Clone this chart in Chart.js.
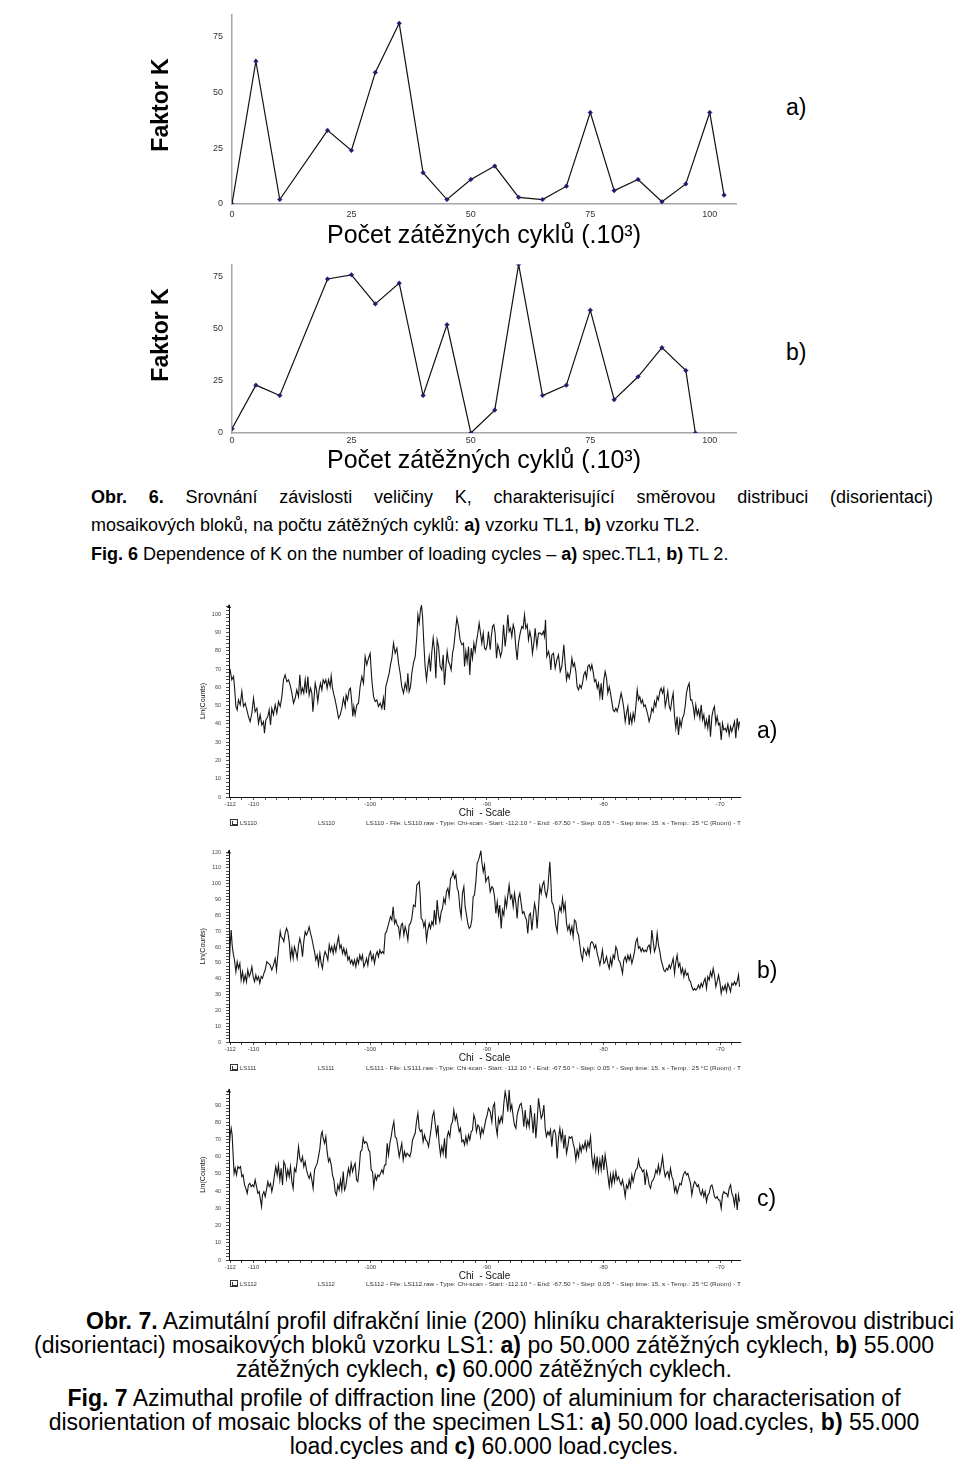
<!DOCTYPE html>
<html>
<head>
<meta charset="utf-8">
<script src="https://cdn.jsdelivr.net/npm/chart.js@4.4.1/dist/chart.umd.min.js"></script>
<style>
  html, body { margin:0; padding:0; background:#fff; }
  body { width:960px; height:1469px; position:relative; overflow:hidden;
         font-family:"Liberation Sans", Arial, Helvetica, sans-serif; color:#000; }
  canvas { position:absolute; }
  .t { position:absolute; white-space:nowrap; }
  .cap1 { font-size:18px; line-height:28px; }
  .cap2 { font-size:23px; line-height:24px; }
  .lbl { font-size:23px; line-height:26px; }
  .ytitle { position:absolute; width:200px; height:28px; line-height:28px; text-align:center;
            font-size:23px; font-weight:bold; transform:rotate(-90deg); white-space:nowrap; }
  .leg { position:absolute; white-space:nowrap; font-size:6px; line-height:8px; color:#333; }
  .ico { position:absolute; width:8px; height:7px; border:1px solid #333; box-sizing:border-box; }
  .ico:after { content:""; position:absolute; left:1px; top:1px; width:4px; height:3px; border-bottom:1px solid #333; border-left:1px solid #333; }
  .ctr { position:absolute; left:0; width:968px; text-align:center; white-space:nowrap; }
  .just { position:absolute; width:842px; text-align:justify; text-align-last:justify; white-space:normal; }
</style>
</head>
<body>

<canvas id="kA" width="620" height="251" style="left:140px; top:0px;"></canvas>
<canvas id="kB" width="620" height="226" style="left:140px; top:250px;"></canvas>

<div class="ytitle" style="left:60px; top:91px;">Faktor K</div>
<div class="ytitle" style="left:60px; top:321px;">Faktor K</div>

<div class="t lbl" style="left:786px; top:94px;">a)</div>
<div class="t lbl" style="left:786px; top:339px;">b)</div>

<div class="just cap1" style="left:91px; top:483px;"><b>Obr. 6.</b> Srovnání závislosti veličiny K, charakterisující směrovou distribuci (disorientaci)</div>
<div class="t cap1" style="left:91px; top:511px;">mosaikových bloků, na počtu zátěžných cyklů: <b>a)</b> vzorku TL1, <b>b)</b> vzorku TL2.</div>
<div class="t cap1" style="left:91px; top:540px;"><b>Fig. 6</b> Dependence of K on the number of loading cycles – <b>a)</b> spec.TL1, <b>b)</b> TL 2.</div>

<canvas id="xA" width="570" height="240" style="left:190px; top:595px;"></canvas>
<canvas id="xB" width="570" height="240" style="left:190px; top:840px;"></canvas>
<canvas id="xC" width="570" height="218" style="left:190px; top:1080px;"></canvas>

<div class="t lbl" style="left:757px; top:717px;">a)</div>
<div class="t lbl" style="left:757px; top:957px;">b)</div>
<div class="t lbl" style="left:757px; top:1185px;">c)</div>

<div class="ico" style="left:230px; top:819px;"></div>
<div class="leg" style="left:240px; top:819px;">LS110</div>
<div class="leg" style="left:318px; top:819px;">LS110</div>
<div class="leg fit" data-w="375" style="left:366px; top:819px;">LS110 - File: LS110.raw - Type: Chi-scan - Start: -112.10 ° - End: -67.50 ° - Step: 0.05 ° - Step time: 15. s - Temp.: 25 °C (Room) - T</div>

<div class="ico" style="left:230px; top:1064px;"></div>
<div class="leg" style="left:240px; top:1064px;">LS111</div>
<div class="leg" style="left:318px; top:1064px;">LS111</div>
<div class="leg fit" data-w="375" style="left:366px; top:1064px;">LS111 - File: LS111.raw - Type: Chi-scan - Start: -112.10 ° - End: -67.50 ° - Step: 0.05 ° - Step time: 15. s - Temp.: 25 °C (Room) - T</div>

<div class="ico" style="left:230px; top:1280px;"></div>
<div class="leg" style="left:240px; top:1280px;">LS112</div>
<div class="leg" style="left:318px; top:1280px;">LS112</div>
<div class="leg fit" data-w="375" style="left:366px; top:1280px;">LS112 - File: LS112.raw - Type: Chi-scan - Start: -112.10 ° - End: -67.50 ° - Step: 0.05 ° - Step time: 15. s - Temp.: 25 °C (Room) - T</div>

<div class="t cap2" style="left:86px; top:1309px;"><b>Obr. 7.</b> Azimutální profil difrakční linie (200) hliníku charakterisuje směrovou distribuci</div>
<div class="ctr cap2" style="top:1333px;">(disorientaci) mosaikových bloků vzorku LS1: <b>a)</b> po 50.000 zátěžných cyklech, <b>b)</b> 55.000</div>
<div class="ctr cap2" style="top:1357px;">zátěžných cyklech, <b>c)</b> 60.000 zátěžných cyklech.</div>
<div class="ctr cap2" style="top:1386px;"><b>Fig. 7</b> Azimuthal profile of diffraction line (200) of aluminium for characterisation of</div>
<div class="ctr cap2" style="top:1410px;">disorientation of mosaic blocks of the specimen LS1: <b>a)</b> 50.000 load.cycles, <b>b)</b> 55.000</div>
<div class="ctr cap2" style="top:1434px;">load.cycles and <b>c)</b> 60.000 load.cycles.</div>

<script>
// ---------------- data: Faktor K vs. number of loading cycles ----------------
const kCyclesA = [0, 5, 10, 20, 25, 30, 35, 40, 45, 50, 55, 60, 65, 70, 75, 80, 85, 90, 95, 100, 103];
const kFactorA = [0, 64, 2, 33, 24, 59, 81, 14, 2, 11, 17, 3, 2, 8, 41, 6, 11, 1, 9, 41, 4];
const kCyclesB = [0, 5, 10, 20, 25, 30, 35, 40, 45, 50, 55, 60, 65, 70, 75, 80, 85, 90, 95, 97];
const kFactorB = [2, 23, 18, 74, 76, 62, 72, 18, 52, 0, 11, 81, 18, 23, 59, 16, 27, 41, 30, 0];
const kTicksX = [0, 25, 50, 75, 100];
const kTicksY = [0, 25, 50, 75];

// ---------------- data: azimuthal profiles [Chi, Lin(Counts)] ----------------
const ls110 = [
[-112.09,68.6],[-112.00,69.5],[-111.86,64.1],[-111.71,65.9],[-111.63,60.4],[-111.51,49.5],[-111.40,47.6],[-111.29,53.1],[-111.14,50.4],[-111.00,57.7],
[-110.86,49.5],[-110.71,51.3],[-110.57,47.6],[-110.43,44.0],[-110.29,41.2],[-110.14,45.8],[-110.00,54.0],[-109.86,46.7],[-109.71,48.5],[-109.57,40.3],
[-109.43,44.9],[-109.29,39.4],[-109.14,41.2],[-109.06,34.9],[-108.94,42.2],[-108.77,44.0],[-108.66,47.6],[-108.54,39.4],[-108.43,48.5],[-108.29,44.9],
[-108.14,50.4],[-108.00,45.8],[-107.86,52.2],[-107.71,49.5],[-107.57,54.9],[-107.43,64.1],[-107.29,66.8],[-107.14,63.1],[-107.00,64.1],[-106.86,61.3],
[-106.71,56.8],[-106.57,51.3],[-106.43,54.0],[-106.29,58.6],[-106.14,54.9],[-106.03,66.8],[-105.91,56.8],[-105.80,59.5],[-105.69,56.8],[-105.57,64.1],
[-105.46,56.8],[-105.34,65.9],[-105.23,55.8],[-105.11,59.5],[-105.00,56.8],[-104.91,46.7],[-104.80,54.9],[-104.71,62.2],[-104.60,58.6],[-104.49,52.2],
[-104.37,58.6],[-104.26,62.2],[-104.14,58.6],[-104.03,64.1],[-103.91,62.2],[-103.80,64.1],[-103.69,59.5],[-103.57,64.1],[-103.43,60.4],[-103.34,66.2],
[-103.23,59.5],[-103.11,55.8],[-103.00,53.1],[-102.86,48.5],[-102.71,43.1],[-102.57,44.9],[-102.43,48.5],[-102.29,54.0],[-102.14,49.5],[-102.06,55.8],
[-101.94,53.1],[-101.80,58.6],[-101.69,59.5],[-101.57,51.3],[-101.49,44.0],[-101.40,49.5],[-101.29,44.9],[-101.14,50.4],[-101.00,51.3],[-100.86,60.4],
[-100.71,65.9],[-100.57,62.2],[-100.43,76.8],[-100.29,72.3],[-100.14,75.9],[-100.00,78.6],[-99.86,64.1],[-99.71,54.9],[-99.57,52.2],[-99.43,53.1],
[-99.29,49.5],[-99.14,51.3],[-99.00,48.5],[-98.86,54.0],[-98.77,47.6],[-98.66,60.4],[-98.51,64.1],[-98.37,67.7],[-98.26,72.3],[-98.14,75.9],
[-98.00,84.1],[-97.86,78.6],[-97.71,81.4],[-97.57,73.2],[-97.43,67.7],[-97.29,60.4],[-97.14,56.8],[-97.00,62.2],[-96.86,58.6],[-96.77,67.7],
[-96.66,57.7],[-96.54,60.4],[-96.43,67.7],[-96.29,73.2],[-96.14,76.8],[-96.00,87.8],[-95.91,99.6],[-95.80,95.1],[-95.69,102.4],[-95.60,104.8],
[-95.51,98.7],[-95.40,84.1],[-95.29,71.4],[-95.17,64.1],[-95.06,71.4],[-94.94,76.8],[-94.83,68.6],[-94.71,79.6],[-94.60,86.9],[-94.49,80.5],
[-94.37,65.0],[-94.26,85.9],[-94.14,82.3],[-94.00,71.4],[-93.86,69.5],[-93.74,77.7],[-93.63,61.3],[-93.51,71.4],[-93.40,79.6],[-93.29,74.1],
[-93.17,72.3],[-93.06,69.5],[-92.94,78.6],[-92.83,82.3],[-92.71,89.6],[-92.57,97.8],[-92.43,93.2],[-92.29,85.9],[-92.14,83.2],[-92.00,84.1],
[-91.91,71.4],[-91.80,79.6],[-91.69,74.1],[-91.57,82.3],[-91.46,66.8],[-91.34,81.4],[-91.23,75.9],[-91.11,84.1],[-91.00,79.6],[-90.89,85.0],
[-90.77,89.6],[-90.66,95.1],[-90.54,89.6],[-90.43,84.1],[-90.31,89.6],[-90.20,81.4],[-90.09,80.5],[-89.97,83.2],[-89.86,90.5],[-89.71,80.5],
[-89.63,86.9],[-89.51,93.2],[-89.40,94.2],[-89.29,89.6],[-89.17,75.9],[-89.06,83.2],[-88.94,80.5],[-88.83,76.8],[-88.71,79.6],[-88.57,94.2],
[-88.43,82.3],[-88.31,89.6],[-88.20,99.6],[-88.09,90.5],[-87.97,92.3],[-87.86,87.8],[-87.74,94.2],[-87.63,91.4],[-87.51,81.4],[-87.40,75.0],
[-87.29,84.1],[-87.14,89.6],[-87.00,93.2],[-86.89,92.3],[-86.77,99.6],[-86.66,92.3],[-86.54,94.2],[-86.43,85.9],[-86.31,90.5],[-86.20,86.9],
[-86.09,78.6],[-85.97,84.1],[-85.86,92.3],[-85.71,82.3],[-85.57,89.6],[-85.43,89.6],[-85.29,88.7],[-85.14,90.5],[-85.06,87.8],[-84.97,96.9],
[-84.86,76.8],[-84.71,79.6],[-84.60,75.9],[-84.51,69.5],[-84.43,77.7],[-84.29,78.6],[-84.14,70.4],[-84.00,75.0],[-83.86,77.7],[-83.71,68.6],
[-83.57,71.4],[-83.40,83.2],[-83.29,73.2],[-83.17,64.1],[-83.06,67.7],[-82.94,65.0],[-82.83,68.6],[-82.71,75.9],[-82.60,71.4],[-82.49,73.2],
[-82.37,68.6],[-82.26,60.4],[-82.14,58.6],[-82.03,61.3],[-81.91,59.5],[-81.80,62.2],[-81.69,66.8],[-81.57,68.6],[-81.46,65.0],[-81.34,71.4],
[-81.23,72.3],[-81.11,69.5],[-81.00,72.3],[-80.89,68.6],[-80.77,63.1],[-80.66,64.1],[-80.54,59.5],[-80.43,62.2],[-80.31,54.9],[-80.20,62.2],
[-80.09,53.1],[-79.97,64.1],[-79.86,68.6],[-79.74,65.0],[-79.63,56.8],[-79.51,60.4],[-79.40,56.8],[-79.29,52.2],[-79.17,47.6],[-79.06,46.7],
[-78.94,48.5],[-78.83,46.7],[-78.71,49.5],[-78.60,53.1],[-78.49,56.8],[-78.37,53.1],[-78.26,48.5],[-78.14,41.2],[-78.03,45.8],[-77.91,49.5],
[-77.80,39.4],[-77.69,44.9],[-77.57,40.3],[-77.46,45.8],[-77.34,42.2],[-77.23,49.5],[-77.11,58.6],[-77.00,53.1],[-76.89,54.9],[-76.77,51.3],
[-76.66,53.1],[-76.54,49.5],[-76.43,50.4],[-76.31,47.6],[-76.20,44.9],[-76.09,41.2],[-75.97,44.0],[-75.86,48.5],[-75.74,46.7],[-75.63,52.2],
[-75.51,49.5],[-75.40,54.9],[-75.29,53.1],[-75.17,57.7],[-75.06,59.5],[-74.94,56.8],[-74.83,59.5],[-74.71,49.5],[-74.60,53.1],[-74.49,57.7],
[-74.37,49.5],[-74.26,47.6],[-74.14,53.1],[-74.03,56.8],[-73.91,44.0],[-73.80,37.6],[-73.69,44.0],[-73.57,33.9],[-73.46,42.2],[-73.34,38.5],
[-73.23,43.1],[-73.11,44.9],[-73.00,49.5],[-72.89,56.8],[-72.77,60.4],[-72.66,62.2],[-72.54,53.1],[-72.43,53.1],[-72.31,49.5],[-72.20,44.0],
[-72.09,50.4],[-71.97,44.9],[-71.86,47.6],[-71.74,43.1],[-71.63,50.4],[-71.51,42.2],[-71.40,44.9],[-71.29,38.5],[-71.17,42.2],[-71.06,37.6],
[-70.94,44.9],[-70.83,33.0],[-70.71,44.0],[-70.60,47.6],[-70.49,49.5],[-70.37,40.3],[-70.26,44.0],[-70.14,39.4],[-70.03,40.3],[-69.91,31.2],
[-69.80,40.3],[-69.69,36.7],[-69.57,37.6],[-69.46,35.8],[-69.34,39.4],[-69.23,33.9],[-69.11,38.5],[-69.00,35.8],[-68.89,38.5],[-68.77,41.2],
[-68.66,32.1],[-68.54,43.1],[-68.43,37.6],[-68.34,41.2]
];

const ls111 = [
[-112.09,46.5],[-112.00,61.3],[-111.91,70.7],[-111.83,61.3],[-111.74,56.0],[-111.63,51.8],[-111.51,44.4],[-111.40,50.7],[-111.29,46.5],[-111.17,49.7],
[-111.06,39.2],[-110.94,44.4],[-110.83,38.1],[-110.71,42.3],[-110.60,38.1],[-110.49,45.5],[-110.37,41.3],[-110.26,43.4],[-110.14,47.6],[-110.03,41.3],
[-109.91,38.1],[-109.80,42.3],[-109.69,39.2],[-109.57,41.3],[-109.46,37.1],[-109.34,41.3],[-109.23,40.2],[-109.11,43.4],[-109.00,45.5],[-108.86,50.7],
[-108.71,49.7],[-108.57,48.6],[-108.43,45.5],[-108.29,48.6],[-108.14,52.8],[-108.03,45.5],[-107.91,54.9],[-107.80,63.4],[-107.71,69.7],[-107.63,66.5],
[-107.51,65.5],[-107.40,63.4],[-107.29,68.6],[-107.17,71.8],[-107.06,69.7],[-106.94,63.4],[-106.83,52.8],[-106.71,59.2],[-106.60,52.8],[-106.49,60.2],
[-106.37,57.1],[-106.26,52.8],[-106.14,61.3],[-106.03,65.5],[-105.91,61.3],[-105.80,53.9],[-105.69,63.4],[-105.57,69.7],[-105.46,67.6],[-105.34,69.7],
[-105.23,72.8],[-105.11,68.6],[-105.00,65.5],[-104.89,61.3],[-104.77,57.1],[-104.66,51.8],[-104.54,54.9],[-104.43,48.6],[-104.31,56.0],[-104.20,49.7],
[-104.09,46.5],[-103.97,53.9],[-103.86,57.1],[-103.74,54.9],[-103.63,51.8],[-103.51,61.3],[-103.40,57.1],[-103.29,60.2],[-103.17,56.0],[-103.06,61.3],
[-102.94,57.1],[-102.83,62.3],[-102.71,66.5],[-102.60,59.2],[-102.49,61.3],[-102.37,56.0],[-102.26,59.2],[-102.14,54.9],[-102.03,58.1],[-101.91,51.8],
[-101.80,53.9],[-101.69,49.7],[-101.57,51.8],[-101.46,48.6],[-101.34,51.8],[-101.23,47.6],[-101.11,52.8],[-101.00,49.7],[-100.89,54.9],[-100.77,51.8],
[-100.66,54.9],[-100.54,47.6],[-100.43,49.7],[-100.31,52.8],[-100.20,48.6],[-100.09,54.9],[-99.97,57.1],[-99.86,51.8],[-99.74,54.9],[-99.63,49.7],
[-99.51,54.9],[-99.40,57.1],[-99.29,53.9],[-99.17,58.1],[-99.06,56.0],[-98.94,57.1],[-98.83,56.0],[-98.71,68.6],[-98.60,69.7],[-98.49,72.8],
[-98.37,76.0],[-98.26,79.2],[-98.14,77.1],[-98.03,85.5],[-97.91,74.9],[-97.80,77.1],[-97.69,73.9],[-97.57,72.8],[-97.46,66.5],[-97.34,73.9],
[-97.23,74.9],[-97.11,67.6],[-97.00,72.8],[-96.89,69.7],[-96.77,64.4],[-96.66,73.9],[-96.54,74.9],[-96.43,78.1],[-96.29,86.5],[-96.14,85.5],
[-96.00,99.2],[-95.89,100.2],[-95.80,101.3],[-95.71,92.8],[-95.63,78.1],[-95.51,77.1],[-95.40,72.8],[-95.29,76.0],[-95.17,64.4],[-95.06,70.7],
[-94.94,74.9],[-94.83,71.8],[-94.71,76.0],[-94.60,73.9],[-94.49,83.4],[-94.37,73.9],[-94.26,89.7],[-94.14,80.2],[-94.03,76.0],[-93.91,82.3],
[-93.80,84.4],[-93.69,90.7],[-93.57,87.6],[-93.46,94.9],[-93.34,97.1],[-93.23,91.8],[-93.11,103.4],[-93.00,104.4],[-92.89,107.6],[-92.77,103.4],
[-92.66,105.5],[-92.54,97.1],[-92.43,94.9],[-92.31,84.4],[-92.20,79.2],[-92.09,93.9],[-91.97,98.1],[-91.86,85.5],[-91.74,80.2],[-91.63,74.9],
[-91.51,71.8],[-91.40,72.8],[-91.29,77.1],[-91.17,91.8],[-91.06,92.8],[-90.94,101.3],[-90.83,112.8],[-90.71,114.9],[-90.60,118.1],[-90.51,120.8],
[-90.43,113.9],[-90.31,107.6],[-90.20,111.8],[-90.09,101.3],[-89.97,103.4],[-89.86,104.4],[-89.71,94.9],
[-89.57,98.1],[-89.46,97.1],[-89.34,91.8],[-89.23,81.3],[-89.11,88.6],[-89.00,80.2],[-88.89,86.5],[-88.77,71.8],[-88.66,83.4],[-88.54,80.2],
[-88.43,90.7],[-88.31,85.5],[-88.20,92.8],[-88.09,99.2],[-87.97,90.7],[-87.86,92.8],[-87.74,85.5],[-87.63,93.9],[-87.51,87.6],[-87.40,78.1],
[-87.29,90.7],[-87.17,93.9],[-87.06,87.6],[-86.94,81.3],[-86.83,82.3],[-86.71,79.2],[-86.60,77.1],[-86.49,68.6],[-86.37,80.2],[-86.26,81.3],
[-86.14,70.7],[-86.03,79.2],[-85.91,87.6],[-85.80,83.4],[-85.69,71.8],[-85.57,84.4],[-85.46,98.1],[-85.34,93.9],[-85.23,99.2],[-85.11,101.3],
[-85.00,94.9],[-84.89,91.8],[-84.77,97.1],[-84.69,105.5],[-84.60,113.9],[-84.51,101.3],[-84.43,88.6],[-84.31,86.5],[-84.20,82.3],[-84.09,73.9],
[-83.97,69.7],[-83.86,81.3],[-83.74,85.5],[-83.63,82.3],[-83.51,90.7],[-83.40,83.4],[-83.29,87.6],[-83.17,74.9],[-83.06,70.7],[-82.94,73.9],
[-82.83,68.6],[-82.71,72.8],[-82.60,66.5],[-82.49,77.1],[-82.37,76.0],[-82.26,69.7],[-82.14,67.6],[-82.03,61.3],[-81.91,54.9],[-81.80,51.8],
[-81.69,59.2],[-81.57,57.1],[-81.46,54.9],[-81.34,59.2],[-81.23,54.9],[-81.11,62.3],[-81.00,63.4],[-80.89,62.3],[-80.77,59.2],[-80.66,61.3],
[-80.54,56.0],[-80.43,52.8],[-80.31,48.6],[-80.20,52.8],[-80.09,58.1],[-79.97,49.7],[-79.86,50.7],[-79.74,53.9],[-79.63,49.7],[-79.51,46.5],
[-79.40,52.8],[-79.29,48.6],[-79.17,54.9],[-79.06,52.8],[-78.94,60.2],[-78.83,58.1],[-78.71,51.8],[-78.60,50.7],[-78.49,47.6],[-78.37,43.4],
[-78.26,51.8],[-78.14,53.9],[-78.03,50.7],[-77.91,54.9],[-77.80,51.8],[-77.69,54.9],[-77.57,49.7],[-77.46,52.8],[-77.34,57.1],[-77.23,63.4],
[-77.11,65.5],[-77.00,59.2],[-76.89,60.2],[-76.77,57.1],[-76.66,59.2],[-76.54,57.1],[-76.43,58.1],[-76.31,57.1],[-76.20,60.2],[-76.09,61.3],
[-75.97,57.1],[-75.86,70.7],[-75.74,63.4],[-75.63,57.1],[-75.51,60.2],[-75.40,68.6],[-75.29,61.3],[-75.17,57.1],[-75.06,51.8],[-74.94,48.6],
[-74.83,45.5],[-74.71,44.4],[-74.60,46.5],[-74.49,45.5],[-74.37,48.6],[-74.26,46.5],[-74.14,49.7],[-74.03,52.8],[-73.91,43.4],[-73.80,50.7],
[-73.69,54.9],[-73.57,47.6],[-73.46,49.7],[-73.34,43.4],[-73.23,46.5],[-73.11,41.3],[-73.00,45.5],[-72.89,42.3],[-72.77,43.4],[-72.66,39.2],
[-72.54,38.1],[-72.43,34.9],[-72.31,32.8],[-72.20,33.9],[-72.09,32.8],[-71.97,33.9],[-71.86,36.0],[-71.74,33.9],[-71.63,37.1],[-71.51,34.9],
[-71.40,38.1],[-71.29,40.2],[-71.17,33.9],[-71.06,41.3],[-70.94,39.2],[-70.83,44.4],[-70.71,41.3],[-70.60,46.5],[-70.49,42.3],[-70.37,34.9],
[-70.26,38.1],[-70.14,42.3],[-70.03,38.1],[-69.91,30.7],[-69.80,34.9],[-69.69,32.8],[-69.57,36.0],[-69.46,31.8],[-69.34,37.1],[-69.23,34.9],
[-69.11,31.8],[-69.00,37.1],[-68.89,36.0],[-68.77,38.1],[-68.66,36.0],[-68.54,38.1],[-68.43,42.3],[-68.34,34.9]
];

const ls112 = [
[-112.09,64.8],[-112.00,72.6],[-111.91,76.5],[-111.83,72.6],[-111.74,60.0],[-111.66,50.3],[-111.57,53.2],[-111.46,49.4],[-111.34,54.2],[-111.23,53.2],
[-111.11,54.2],[-111.00,48.4],[-110.89,49.4],[-110.77,43.6],[-110.66,41.6],[-110.54,38.7],[-110.43,43.6],[-110.31,44.5],[-110.20,42.6],[-110.09,43.6],
[-109.97,42.6],[-109.86,46.5],[-109.74,42.6],[-109.63,38.7],[-109.51,39.7],[-109.40,34.8],[-109.31,31.0],[-109.23,37.7],[-109.11,39.7],[-109.00,36.8],
[-108.89,40.7],[-108.77,45.5],[-108.66,42.6],[-108.54,44.5],[-108.43,39.7],[-108.31,43.6],[-108.20,49.4],[-108.09,54.2],[-107.97,49.4],[-107.86,55.2],
[-107.74,46.5],[-107.63,53.2],[-107.51,43.6],[-107.40,57.1],[-107.29,55.2],[-107.17,47.4],[-107.06,52.3],[-106.94,48.4],[-106.83,54.2],[-106.71,45.5],
[-106.60,41.6],[-106.49,53.2],[-106.37,51.3],[-106.26,57.1],[-106.14,65.8],[-106.03,59.0],[-105.91,57.1],[-105.80,60.0],[-105.69,54.2],[-105.57,57.1],
[-105.46,52.3],[-105.34,49.4],[-105.23,47.4],[-105.11,50.3],[-105.00,46.5],[-104.89,41.6],[-104.77,52.3],[-104.66,54.2],[-104.54,56.1],[-104.43,60.0],
[-104.31,64.8],[-104.20,72.6],[-104.11,74.5],[-104.03,70.7],[-103.91,67.7],[-103.80,71.6],[-103.69,62.9],[-103.57,57.1],[-103.46,59.0],[-103.34,55.2],
[-103.23,49.4],[-103.11,46.5],[-103.00,39.7],[-102.89,37.7],[-102.77,43.6],[-102.66,40.7],[-102.54,46.5],[-102.43,40.7],[-102.31,51.3],[-102.20,40.7],
[-102.09,42.6],[-101.97,48.4],[-101.86,53.2],[-101.74,49.4],[-101.63,56.1],[-101.51,51.3],[-101.40,54.2],[-101.29,56.1],[-101.17,46.5],[-101.06,45.5],
[-100.94,53.2],[-100.83,62.9],[-100.71,63.9],[-100.60,70.7],[-100.49,67.7],[-100.37,68.7],[-100.26,67.7],[-100.14,63.9],[-100.03,62.9],[-99.91,52.3],
[-99.80,51.3],[-99.69,42.6],[-99.57,49.4],[-99.46,46.5],[-99.34,49.4],[-99.23,48.4],[-99.11,50.3],[-99.00,52.3],[-98.89,50.3],[-98.77,55.2],
[-98.66,55.2],[-98.54,67.7],[-98.43,61.0],[-98.31,67.7],[-98.20,71.6],[-98.09,76.5],[-97.97,80.3],[-97.86,71.6],[-97.74,70.7],[-97.63,65.8],
[-97.51,60.0],[-97.40,63.9],[-97.29,67.7],[-97.17,58.1],[-97.06,62.9],[-96.94,60.0],[-96.83,61.9],[-96.71,61.0],[-96.60,60.0],[-96.49,62.9],
[-96.37,69.7],[-96.26,71.6],[-96.14,73.6],[-96.03,80.3],[-95.91,85.2],[-95.80,76.5],[-95.69,74.5],[-95.57,75.5],[-95.46,68.7],[-95.34,72.6],
[-95.23,69.7],[-95.11,68.7],[-95.00,65.8],[-94.89,70.7],[-94.77,76.5],[-94.66,83.2],[-94.54,86.1],[-94.43,79.4],[-94.31,72.6],[-94.20,78.4],
[-94.09,67.7],[-93.97,61.0],[-93.86,65.8],[-93.74,61.9],[-93.63,70.7],[-93.51,59.0],[-93.40,71.6],[-93.29,74.5],[-93.17,71.6],[-93.06,78.4],
[-92.94,80.3],[-92.83,87.1],[-92.71,81.3],[-92.60,84.2],[-92.49,79.4],[-92.37,74.5],[-92.26,76.5],[-92.14,68.7],[-92.03,69.7],[-91.91,66.8],
[-91.80,71.6],[-91.69,67.7],[-91.57,72.6],[-91.46,69.7],[-91.34,74.5],[-91.23,75.5],[-91.11,84.2],[-91.00,81.3],[-90.89,74.5],[-90.77,78.4],
[-90.66,77.4],[-90.54,71.6],[-90.43,76.5],[-90.31,73.6],[-90.20,77.4],[-90.09,81.3],[-89.97,84.2],[-89.86,88.1],[-89.71,86.1],
[-89.57,80.3],[-89.46,89.0],[-89.34,91.0],[-89.23,78.4],[-89.11,72.6],[-89.00,82.3],[-88.89,79.4],[-88.77,83.2],[-88.66,80.3],[-88.54,91.0],
[-88.43,97.8],[-88.31,93.1],[-88.20,86.1],[-88.09,98.7],[-87.97,87.1],[-87.86,90.0],[-87.74,83.2],[-87.63,78.4],[-87.51,76.5],[-87.40,84.2],
[-87.29,87.1],[-87.17,90.0],[-87.06,91.0],[-86.94,86.1],[-86.83,77.4],[-86.71,87.1],[-86.60,77.4],[-86.49,81.3],[-86.37,77.4],[-86.26,90.0],
[-86.14,82.3],[-86.03,73.6],[-85.91,85.2],[-85.80,70.7],[-85.69,80.3],[-85.57,93.9],[-85.46,88.1],[-85.34,82.3],[-85.23,84.2],[-85.11,90.0],
[-85.00,76.5],[-84.89,71.6],[-84.77,74.5],[-84.66,72.6],[-84.54,75.5],[-84.43,65.8],[-84.31,74.5],[-84.20,75.5],[-84.09,72.6],[-83.97,59.0],
[-83.86,70.7],[-83.74,76.5],[-83.63,69.7],[-83.51,74.5],[-83.40,64.8],[-83.29,72.6],[-83.17,61.9],[-83.06,65.8],[-82.94,71.6],[-82.83,70.7],
[-82.71,71.6],[-82.60,67.7],[-82.49,64.8],[-82.37,58.1],[-82.26,63.9],[-82.14,60.0],[-82.03,66.8],[-81.91,62.9],[-81.80,66.8],[-81.69,64.8],
[-81.57,68.7],[-81.46,63.9],[-81.34,68.7],[-81.23,65.8],[-81.11,71.6],[-81.00,60.0],[-80.89,54.2],[-80.77,60.0],[-80.66,52.3],[-80.54,60.0],
[-80.43,51.3],[-80.31,58.1],[-80.20,52.3],[-80.09,61.0],[-79.97,52.3],[-79.86,61.0],[-79.74,55.2],[-79.63,49.4],[-79.51,42.6],[-79.40,49.4],
[-79.29,43.6],[-79.17,50.3],[-79.06,45.5],[-78.94,51.3],[-78.83,46.5],[-78.71,48.4],[-78.60,45.5],[-78.49,43.6],[-78.37,46.5],[-78.26,42.6],
[-78.14,36.8],[-78.03,43.6],[-77.91,41.6],[-77.80,46.5],[-77.69,42.6],[-77.57,49.4],[-77.46,45.5],[-77.34,49.4],[-77.23,52.3],[-77.11,53.2],
[-77.00,58.1],[-76.89,54.2],[-76.77,53.2],[-76.66,51.3],[-76.54,52.3],[-76.43,43.6],[-76.31,51.3],[-76.20,48.4],[-76.09,43.6],[-75.97,41.6],
[-75.86,45.5],[-75.74,46.5],[-75.63,48.4],[-75.51,52.3],[-75.40,50.3],[-75.29,55.2],[-75.17,50.3],[-75.06,54.2],[-74.94,60.0],[-74.83,53.2],
[-74.71,48.4],[-74.60,50.3],[-74.49,51.3],[-74.37,47.4],[-74.26,53.2],[-74.14,48.4],[-74.03,46.5],[-73.91,39.7],[-73.80,42.6],[-73.69,38.7],
[-73.57,41.6],[-73.46,44.5],[-73.34,43.6],[-73.23,47.4],[-73.11,50.3],[-73.00,51.3],[-72.89,49.4],[-72.77,50.3],[-72.66,47.4],[-72.54,44.5],
[-72.43,37.7],[-72.31,42.6],[-72.20,45.5],[-72.09,44.5],[-71.97,42.6],[-71.86,43.6],[-71.74,39.7],[-71.63,37.7],[-71.51,40.7],[-71.40,36.8],
[-71.29,39.7],[-71.17,33.9],[-71.06,37.7],[-70.94,38.7],[-70.83,42.6],[-70.71,43.6],[-70.60,40.7],[-70.49,36.8],[-70.37,35.8],[-70.26,36.8],
[-70.14,34.8],[-70.03,34.8],[-69.91,30.0],[-69.80,37.7],[-69.69,39.7],[-69.57,38.7],[-69.46,38.7],[-69.34,36.8],[-69.23,41.6],[-69.11,43.6],
[-69.00,38.7],[-68.89,36.8],[-68.77,31.9],[-68.66,38.7],[-68.54,29.0],[-68.43,37.7],[-68.34,33.9]
];

const chiTickLabels = [-112, -110, -100, -90, -80, -70];
const chiMin = -112.1, chiMax = -68.3;

// ---------------- charts ----------------
Chart.defaults.font.family = '"Liberation Sans", Arial, Helvetica, sans-serif';
Chart.defaults.color = '#000';

// small arrow head at the top of the y axis (as in the diffractometer printouts)
const axisArrow = {
  id: 'axisArrow',
  afterDraw(chart) {
    const { ctx, chartArea: a } = chart;
    ctx.save();
    ctx.fillStyle = '#111';
    ctx.beginPath();
    ctx.moveTo(a.left - 2, a.top + 3);
    ctx.lineTo(a.left + 2, a.top + 3);
    ctx.lineTo(a.left, a.top - 1);
    ctx.closePath();
    ctx.fill();
    ctx.restore();
  }
};

function kChart(id, xs, ys, yMax, padTop, xAxisH, xLabelPad) {
  new Chart(document.getElementById(id), {
    type: 'line',
    data: { datasets: [{
      data: xs.map((x, i) => ({ x: x, y: ys[i] })),
      borderColor: '#111', borderWidth: 1.2, tension: 0,
      pointStyle: 'rectRot', pointRadius: 2.3,
      pointBackgroundColor: '#1d1d6e', pointBorderColor: '#1d1d6e', pointBorderWidth: 0.5
    }]},
    options: {
      responsive: false, animation: false, events: [],
      layout: { padding: { left: 0, top: padTop, right: 24, bottom: 0 } },
      plugins: { legend: { display: false }, tooltip: { enabled: false } },
      scales: {
        x: {
          type: 'linear', min: 0, max: 105.5,
          afterBuildTicks: s => { s.ticks = kTicksX.map(v => ({ value: v })); },
          afterFit: s => { s.height = xAxisH; },
          grid: { display: false, drawTicks: false },
          border: { display: true, color: '#a6a6a6', width: 1.5 },
          ticks: { padding: xLabelPad, font: { size: 9 }, color: '#333', maxRotation: 0, autoSkip: false },
          title: { display: true, text: 'Počet zátěžných cyklů (.10³)', font: { size: 25 }, color: '#000', padding: { top: 0, bottom: 0 } }
        },
        y: {
          type: 'linear', min: 0, max: yMax,
          afterBuildTicks: s => { s.ticks = kTicksY.map(v => ({ value: v })); },
          afterFit: s => { s.width = 92; },
          grid: { display: false, drawTicks: false },
          border: { display: true, color: '#a6a6a6', width: 1.5 },
          ticks: { padding: 9, font: { size: 9 }, color: '#333' }
        }
      }
    }
  });
}

function xrdChart(id, pts, yMax, padTop) {
  new Chart(document.getElementById(id), {
    type: 'line',
    data: { datasets: [{
      data: pts.map(p => ({ x: p[0], y: p[1] })),
      borderColor: '#151515', borderWidth: 1.1, pointRadius: 0, tension: 0
    }]},
    options: {
      responsive: false, animation: false, events: [],
      layout: { padding: { left: 0, top: padTop, right: 20, bottom: 0 } },
      plugins: { legend: { display: false }, tooltip: { enabled: false } },
      scales: {
        x: {
          type: 'linear', min: chiMin, max: chiMax,
          afterBuildTicks: s => { const t = []; for (let v = -112; v <= -69; v++) t.push({ value: v }); s.ticks = t; },
          afterFit: s => { s.height = 38; },
          grid: { display: true, drawOnChartArea: false, drawTicks: true, tickLength: 3, tickColor: '#222', tickWidth: 0.8 },
          border: { display: true, color: '#111', width: 1 },
          ticks: { padding: 1, font: { size: 6 }, color: '#444', maxRotation: 0, minRotation: 0, autoSkip: false,
                   callback: v => chiTickLabels.includes(v) ? String(v) : '' },
          title: { display: true, text: 'Chi  - Scale', font: { size: 10 }, color: '#111', padding: { top: 0, bottom: 16 } }
        },
        y: {
          type: 'linear', min: 0, max: yMax,
          afterBuildTicks: s => { const t = []; for (let v = 0; v <= s.max; v += 2) t.push({ value: v }); s.ticks = t; },
          afterFit: s => { s.width = 39; },
          grid: { display: true, drawOnChartArea: false, drawTicks: true, tickLength: 3, tickColor: '#222', tickWidth: 0.8 },
          border: { display: true, color: '#111', width: 1 },
          ticks: { padding: 5, font: { size: 5.5 }, color: '#444', autoSkip: false,
                   callback: v => (v % 10 === 0 ? String(v) : '') },
          title: { display: true, text: 'Lin(Counts)', font: { size: 7 }, color: '#111', padding: { top: 9, bottom: 0 } }
        }
      }
    },
    plugins: [axisArrow]
  });
}

kChart('kA', kCyclesA, kFactorA, 85, 1, 47, 5);
kChart('kB', kCyclesB, kFactorB, 81, 8, 43, 2);
xrdChart('xA', ls110, 105, 10);
xrdChart('xB', ls111, 121, 10.5);
xrdChart('xC', ls112, 99, 9.5);

// fit the long instrument info lines to their width
document.querySelectorAll('.fit').forEach(el => {
  const w = el.getBoundingClientRect().width;
  const target = parseFloat(el.dataset.w);
  el.style.transformOrigin = '0 0';
  el.style.transform = 'scaleX(' + (target / w) + ')';
});
</script>
</body>
</html>
